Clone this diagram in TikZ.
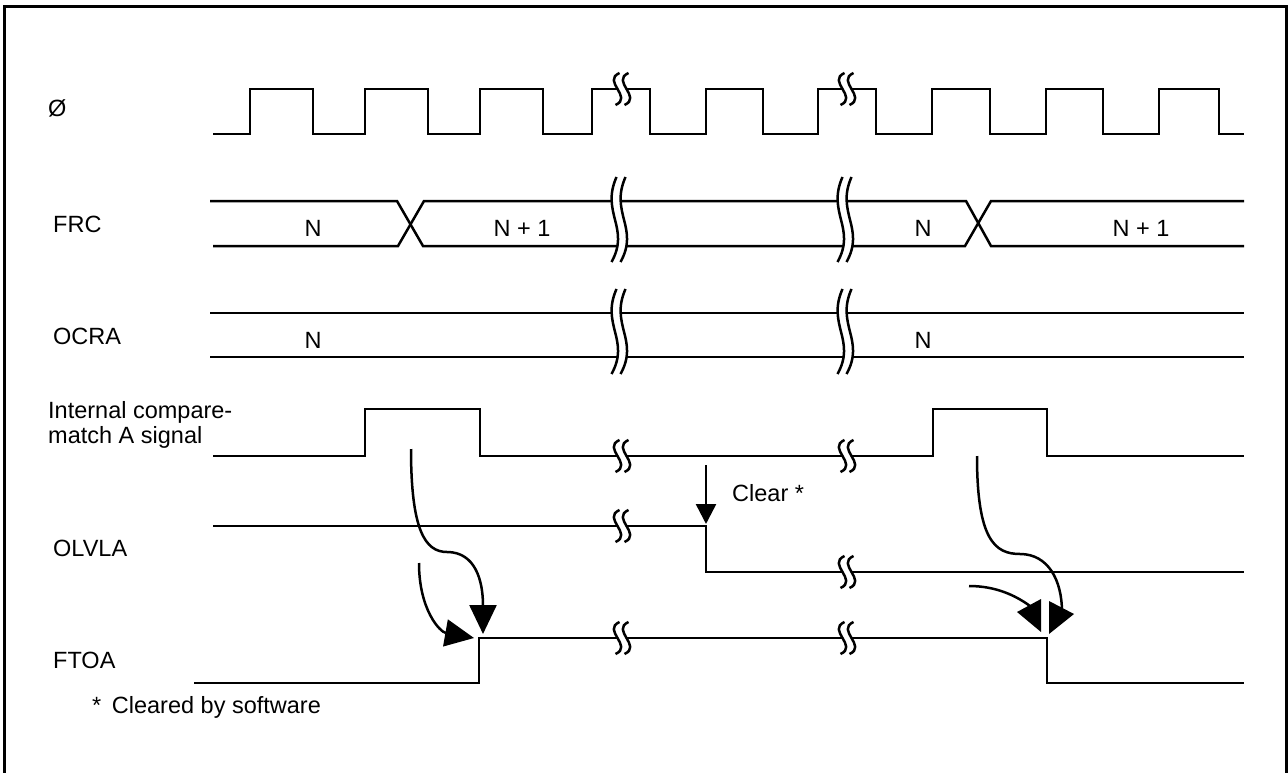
\documentclass[tikz,border=0pt]{standalone}
\usepackage{fontspec}
\setmainfont{Liberation Sans}
\usetikzlibrary{arrows.meta}

\begin{document}
\begin{tikzpicture}[
                x=1pt, y=-1pt,
                sig/.style={line width=2.5pt},
                frame/.style={line width=3pt},
                lbl/.style={anchor=west, inner sep=0pt, font=\fontsize{23.5}{25}\selectfont},
                val/.style={inner sep=0pt, font=\fontsize{23.5}{25}\selectfont},
                arrow/.style={line width=2.5pt, -{Triangle[length=29pt, width=27pt]}},
                clrarrow/.style={line width=2.5pt, -{Triangle[length=20pt, width=20pt]}},
                head/.style={fill=black},
                sbrk/.pic={
                    \fill[white] (-2.5,-16) .. controls (-20.5,-8) and (11.5,8) .. (-6.5,16) -- (2.5,16) .. controls (20.5,8) and (-11.5,-8) .. (6.5,-16) -- cycle;
                    \draw[sig] (-2.5,-16) .. controls (-20.5,-8) and (11.5,8) .. (-6.5,16);
                    \draw[sig] (6.5,-16) .. controls (-11.5,-8) and (20.5,8) .. (2.5,16);
                },
                bbrk/.pic={
                    \fill[white] (-2.5,-46) .. controls (-18.5,-10) and (11.5,5) .. (-7.5,39) -- (1.5,39) .. controls (20.5,5) and (-9.5,-10) .. (6.5,-46) -- cycle;
                    \draw[sig] (-2.5,-46) .. controls (-18.5,-10) and (11.5,5) .. (-7.5,39);
                    \draw[sig] (6.5,-46) .. controls (-9.5,-10) and (20.5,5) .. (1.5,39);
                }
            ]%
            \useasboundingbox (0,0) rectangle (1288,773);
            \draw[frame] (4,773) -- (4,7) -- (1286,7) -- (1286,773);
            %
            % === Etiquetas ===
            \node[lbl] (phi) at (48,108) {Ø};
            \node[lbl] (frc) at (53,224) {FRC};
            \node[lbl] (ocra) at (53,336) {OCRA};
            \node[lbl, anchor=base west, align=left] (cmp) at (48,443) {Internal compare-\\match A signal};
            \node[lbl] (olvla) at (53,548) {OLVLA};
            \node[lbl] (ftoa) at (53,660) {FTOA};
            \node[lbl] (note) at (92,707) {*\hspace{0.45em}Cleared by software};
            %
            % Reloj
            \draw[sig] (213,134) -- (250,134) -- (250,89) -- (313,89) -- (313,134) -- (365,134) -- (365,89) -- (428,89) -- (428,134)
                -- (480,134) -- (480,89) -- (543,89) -- (543,134) -- (592,134) -- (592,89) -- (650,89) -- (650,134)
                -- (706,134) -- (706,89) -- (763,89) -- (763,134) -- (818,134) -- (818,89) -- (876,89) -- (876,134)
                -- (932,134) -- (932,89) -- (990,89) -- (990,134) -- (1046,134) -- (1046,89) -- (1103,89) -- (1103,134)
                -- (1159,134) -- (1159,89) -- (1219,89) -- (1219,134) -- (1244,134);
            %
            % FRC
            \draw[sig] (210,201) -- (397,201) -- (423,246) -- (965,246) -- (991,201) -- (1244,201);
            \draw[sig] (213,246) -- (398,246) -- (424,201) -- (966,201) -- (991,246) -- (1244,246);
            \node[val] (frc_n1) at (313,228) {N};
            \node[val] (frc_n2) at (522,228) {N + 1};
            \node[val] (frc_n3) at (923,228) {N};
            \node[val] (frc_n4) at (1141,228) {N + 1};
            %
            % OCRA
            \draw[sig] (210,313) -- (1244,313);
            \draw[sig] (210,357) -- (1244,357);
            \node[val] (ocra_n1) at (313,340) {N};
            \node[val] (ocra_n2) at (923,340) {N};
            %
            % Compare-match A, OLVLA, FTOA
            \draw[sig] (213,456) -- (365,456) -- (365,409) -- (480,409) -- (480,456) -- (933,456) -- (933,409) -- (1047,409) -- (1047,456) -- (1244,456);
            \draw[sig] (213,526) -- (706,526) -- (706,572) -- (1244,572);
            \draw[sig] (194,683) -- (479,683) -- (479,638) -- (1047,638) -- (1047,683) -- (1244,683);
            %
            % === Cortes ===
            \pic at (622,89) {sbrk};
            \pic at (847,89) {sbrk};
            \pic at (619,223) {bbrk};
            \pic at (845,223) {bbrk};
            \pic at (619,335) {bbrk};
            \pic at (845,335) {bbrk};
            \pic at (622,456) {sbrk};
            \pic at (847,456) {sbrk};
            \pic at (622,526) {sbrk};
            \pic at (847,572) {sbrk};
            \pic at (622,638) {sbrk};
            \pic at (847,638) {sbrk};
            %
            % === Clear ===
            \coordinate (clr_a) at (706,465);
            \coordinate (clr_b) at (706,524);
            \draw[clrarrow] (clr_a) -- (clr_b);
            \node[lbl] (clr) at (732,493) {Clear *};
            %
            % Flechas FTOA (primer flanco)
            \coordinate (m1) at (411,449);
            \coordinate (m1x) at (447,552);
            \coordinate (m1e) at (483,634);
            \coordinate (o1) at (419,563);
            \coordinate (o1e) at (474,638);
            \draw[arrow] (m1) .. controls (411,530) and (425,552) .. (m1x) .. controls (475,552) and (483,580) .. (m1e);
            \draw[arrow] (o1) .. controls (419,610) and (440,632) .. (o1e);
            %
            % Flechas FTOA (segundo flanco)
            \coordinate (m2) at (977,456);
            \coordinate (m2x) at (1020,554);
            \coordinate (m2e) at (1062,612);
            \coordinate (o2) at (969,586);
            \coordinate (o2e) at (1030,606);
            \draw[sig] (m2) .. controls (977,540) and (995,554) .. (m2x) .. controls (1048,554) and (1062,580) .. (m2e);
            \draw[sig] (o2) .. controls (995,586) and (1015,595) .. (o2e);
            \fill[head] (1049,601) -- (1074,614) -- (1049,634) -- cycle;
            \fill[head] (1041,599) -- (1017,612) -- (1041,632) -- cycle;
        \end{tikzpicture}
\end{document}
